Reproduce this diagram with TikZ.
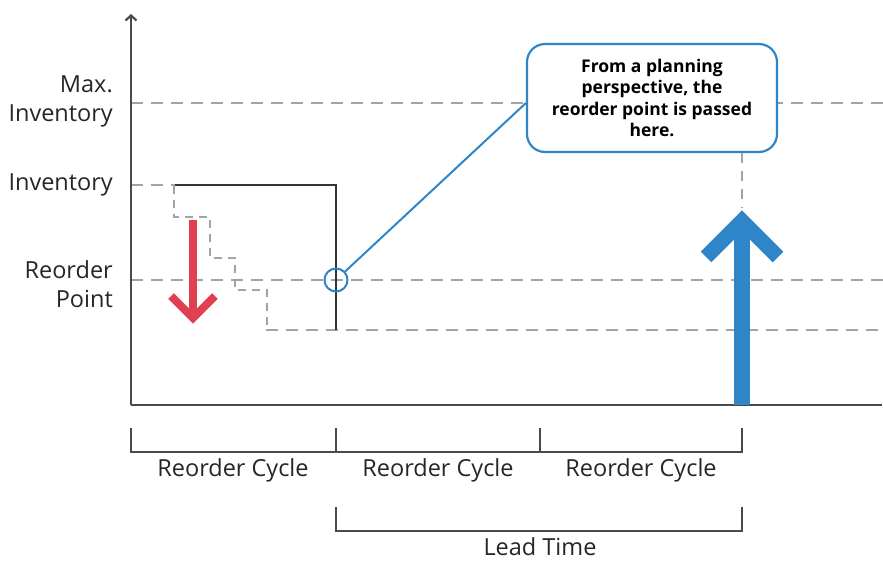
\documentclass[tikz,border=0pt]{standalone}
\usepackage{fontspec}
\setmainfont{Open Sans}
\usetikzlibrary{arrows.meta}
\definecolor{myblue}{HTML}{2E86C8}
\definecolor{myred}{HTML}{E0404F}
\definecolor{dashgray}{HTML}{A3A3A3}
\definecolor{axisgray}{HTML}{4A4A4A}
\begin{document}
\begin{tikzpicture}[x=1pt,y=-1pt,
  axisline/.style={draw=axisgray, line width=2pt},
  guide/.style={draw=dashgray, line width=1.4pt, dash pattern=on 12pt off 8pt},
  stairs/.style={draw=dashgray, line width=1.4pt, dash pattern=on 8pt off 6pt},
  bracketline/.style={draw=axisgray, line width=1.6pt},
  lbl/.style={font=\fontsize{23.5}{29}\selectfont, text=black!85, inner sep=0pt},
  ylbl/.style={lbl, align=right, anchor=east},
  callout/.style={draw=myblue, line width=2.2pt, rounded corners=18pt, fill=white,
    minimum width=250pt, minimum height=108pt, align=center, inner sep=4pt,
    font=\fontsize{17.5}{21.5}\selectfont\bfseries},
  ringnode/.style={circle, draw=myblue, line width=2pt, minimum size=23pt, inner sep=0pt}
]
\useasboundingbox (0,0) rectangle (883,560);

% coordinates
\coordinate (origin) at (131,405);
\coordinate (ytop) at (131,14);
\coordinate (xend) at (882,405);

% guide lines
\draw[guide] (131,103) -- (883,103);
\draw[guide] (131,280) -- (883,280);
\draw[guide] (131,185) -- (175,185);
\draw[guide] (266,330) -- (883,330);

% dashed staircase
\draw[stairs] (174,186) -- (174,217) -- (210,217) -- (210,258) -- (235,258) -- (235,290) -- (267,290) -- (267,330);

% solid inventory line
\draw[draw=black!80, line width=1.8pt] (175,185) -- (336,185) -- (336,330);

% axes
\draw[axisline, -{Straight Barb[length=5pt,width=11pt,line width=2.2pt]}] (origin) -- (ytop);
\draw[axisline] (origin) -- (xend);

% red arrow
\draw[myred, line width=8pt] (193,220) -- (193,316);
\draw[myred, line width=8pt, miter limit=10] (171,296) -- (193,318) -- (215,296);

% blue arrow
\coordinate (bluebase) at (742,405);
\coordinate (bluetip) at (742,221);
\draw[myblue, line width=16pt] (bluebase) -- (742,225);
\draw[myblue, line width=15pt, miter limit=10] (706,257) -- (bluetip) -- (778,257);

% callout
\node[callout] (note) at (652,98) {From a planning\\perspective, the\\reorder point is passed\\here.};
\coordinate (noteb) at (742,153);
\draw[guide, dash pattern=on 10pt off 8pt] (noteb) -- (742,208);

% ring and connector
\node[ringnode] (rp) at (336,280) {};
\draw[myblue, line width=2pt] (rp) -- ([yshift=-5pt]note.west);

% y labels
\node[ylbl] (lmax) at (113,101) {Max.\\Inventory};
\node[ylbl] (linv) at (113,185) {Inventory};
\node[ylbl] (lrp) at (113,284) {Reorder\\Point};

% reorder cycle brackets
\coordinate (t0) at (131,428);
\coordinate (t1) at (336,428);
\coordinate (t2) at (540,428);
\coordinate (t3) at (742,428);
\draw[bracketline] (t0) -- (131,452) -- (742,452) -- (t3);
\draw[bracketline] (t1) -- (336,452);
\draw[bracketline] (t2) -- (540,452);
\node[lbl] (rc1) at (233,470) {Reorder Cycle};
\node[lbl] (rc2) at (438,470) {Reorder Cycle};
\node[lbl] (rc3) at (641,470) {Reorder Cycle};

% lead time bracket
\coordinate (l0) at (336,507);
\coordinate (l1) at (742,507);
\draw[bracketline] (l0) -- (336,531) -- (742,531) -- (l1);
\node[lbl, anchor=base, text depth=0pt] (lt) at (540,555) {Lead Time};
\end{tikzpicture}
\end{document}
